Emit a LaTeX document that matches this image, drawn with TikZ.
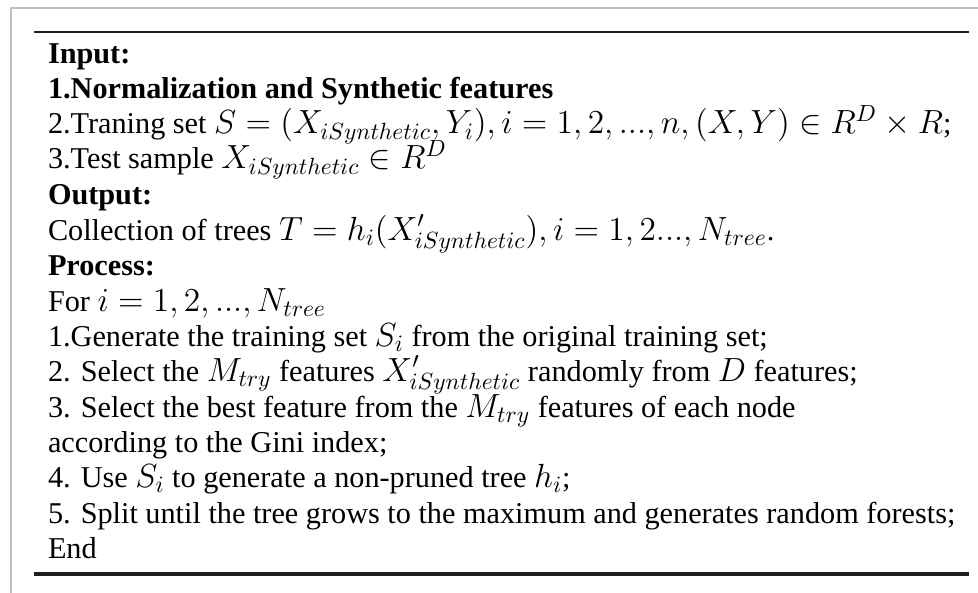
\RequirePackage{fix-cm}
\documentclass[tikz,border=0pt]{standalone}
\usepackage[no-math]{fontspec}
\setmainfont[Scale=0.903]{Liberation Serif}
\begin{document}
\begin{tikzpicture}[x=0.5pt,y=-0.5pt,
  algline/.style={anchor=base west,inner sep=0pt,outer sep=0pt,
    font=\fontsize{16.75pt}{17.6pt}\selectfont},
  framerule/.style={draw=black!25,line width=0.8pt},
  toprulestyle/.style={draw=black!88,line width=1pt},
  botrulestyle/.style={draw=black!88,line width=1.6pt}]
\useasboundingbox (0,0) rectangle (978,593);
% outer frame edges
\draw[framerule] (11,593) -- (11,8) -- (978,8);
% rules above and below the algorithm
\coordinate (tl) at (34,32);
\coordinate (tr) at (969,32);
\coordinate (bl) at (34,574);
\coordinate (br) at (969,574);
\draw[toprulestyle] (tl) -- (tr);
\draw[botrulestyle] (bl) -- (br);
% algorithm text, one node per line
\node[algline] (l1)  at (48,64)  {\textbf{Input:}};
\node[algline] (l2)  at (48,99)  {\textbf{1.Normalization and Synthetic features}};
\node[algline] (l3)  at (48,134) {2.Traning set $S=(X_{iSynthetic},Y_i),i=1,2,...,n,(X,Y)\in R^D\times R$;};
\node[algline] (l4)  at (48,169) {3.Test sample $X_{iSynthetic}\in R^D$};
\node[algline] (l5)  at (48,205) {\textbf{Output:}};
\node[algline] (l6)  at (48,240) {Collection of trees $T=h_i(X'_{iSynthetic}),i=1,2...,N_{tree}$.};
\node[algline] (l7)  at (48,275) {\textbf{Process:}};
\node[algline] (l8)  at (48,311) {For $i=1,2,...,N_{tree}$};
\node[algline] (l9)  at (48,346) {1.Generate the training set $S_i$ from the original training set;};
\node[algline] (l10) at (48,381) {2. Select the $M_{try}$ features $X'_{iSynthetic}$ randomly from $D$ features;};
\node[algline] (l11) at (48,417) {3. Select the best feature from the $M_{try}$ features of each node};
\node[algline] (l12) at (48,452) {according to the Gini index;};
\node[algline] (l13) at (48,487) {4. Use $S_i$ to generate a non-pruned tree $h_i$;};
\node[algline] (l14) at (48,523) {5. Split until the tree grows to the maximum and generates random forests;};
\node[algline] (l15) at (48,558) {End};
\end{tikzpicture}
\end{document}
